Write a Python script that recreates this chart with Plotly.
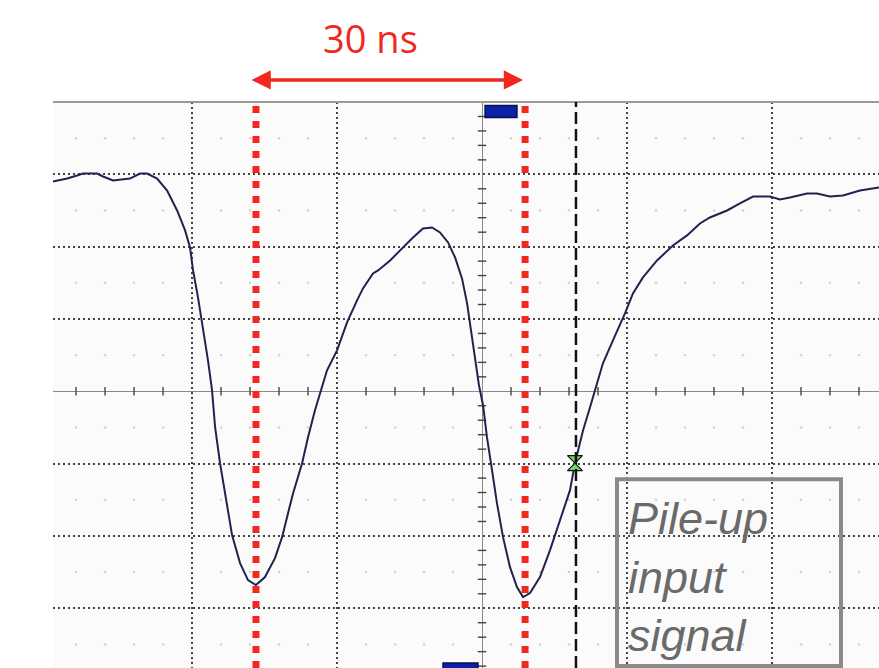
import plotly.graph_objects as go

# Waveform (time and amplitude in screen divisions; centre of screen = 0,0)
T_DIV = [-2.959, -2.862, -2.793, -2.752, -2.655, -2.614, -2.545, -2.497, -2.428, -2.359,
         -2.310, -2.241, -2.172, -2.103, -2.048, -2.014, -1.993, -1.959, -1.924, -1.890,
         -1.862, -1.841, -1.807, -1.772, -1.724, -1.669, -1.614, -1.559, -1.497, -1.428,
         -1.379, -1.338, -1.303, -1.241, -1.200, -1.152, -1.117, -1.069, -1.000, -0.931,
         -0.862, -0.821, -0.752, -0.717, -0.634, -0.545, -0.476, -0.407, -0.345, -0.290,
         -0.234, -0.186, -0.138, -0.103, -0.076, -0.048, -0.021, 0.007, 0.034, 0.069,
         0.103, 0.145, 0.193, 0.241, 0.283, 0.331, 0.400, 0.469, 0.538, 0.607,
         0.641, 0.697, 0.745, 0.779, 0.834, 0.903, 0.986, 1.041, 1.110, 1.207,
         1.317, 1.414, 1.503, 1.572, 1.690, 1.779, 1.869, 1.986, 2.055, 2.124,
         2.241, 2.310, 2.400, 2.490, 2.607, 2.738]
V_DIV = [2.901, 2.942, 2.983, 3.011, 3.011, 2.970, 2.914, 2.928, 2.942, 3.011,
         3.011, 2.942, 2.776, 2.500, 2.224, 1.989, 1.671, 1.298, 0.884, 0.428,
         0.014, -0.497, -0.994, -1.409, -1.989, -2.376, -2.610, -2.680, -2.569, -2.307,
         -2.017, -1.685, -1.409, -0.994, -0.635, -0.262, -0.014, 0.290, 0.566, 0.953,
         1.257, 1.423, 1.630, 1.671, 1.809, 1.989, 2.127, 2.251, 2.265, 2.196,
         2.058, 1.851, 1.561, 1.215, 0.843, 0.428, 0.083, -0.193, -0.635, -1.091,
         -1.547, -2.017, -2.431, -2.707, -2.845, -2.790, -2.569, -2.196, -1.782, -1.367,
         -0.994, -0.539, -0.221, 0.014, 0.387, 0.704, 1.077, 1.354, 1.575, 1.809,
         2.017, 2.155, 2.320, 2.403, 2.500, 2.597, 2.693, 2.693, 2.652, 2.680,
         2.735, 2.735, 2.693, 2.707, 2.776, 2.818]

X_RANGE = [-2.959, 2.738]
Y_RANGE = [-3.826, 4.0]
X_GRID = [-2, -1, 0, 1, 2]
Y_GRID = [-3, -2, -1, 0, 1, 2, 3]

PEAK_MARKERS = [-1.559, 0.297]      # red dotted cursors at the two minima
TRIGGER_X = 0.648                   # black dashed cursor
TRIGGER_POINT = (0.641, -0.994)     # green trigger marker
LABEL_30NS = "30 ns"
LABEL_BOX = "Pile-up<br>input<br>signal"

RED = "#f0281e"

fig = go.Figure()

# faint minor dots at half-division rows
mx, my = [], []
for r in [-3.5, -2.5, -1.5, -0.5, 0.5, 1.5, 2.5, 3.5]:
    for k in range(-15, 15):
        if k % 5 != 0:
            mx.append(k * 0.2)
            my.append(r)
fig.add_trace(go.Scatter(x=mx, y=my, mode="markers", hoverinfo="skip",
                         marker=dict(size=2.5, color="#d2d2d2"), showlegend=False))

# minor ticks on centre axes
tx = [k * 0.2 for k in range(-15, 15) if k % 5 != 0]
fig.add_trace(go.Scatter(x=tx, y=[0] * len(tx), mode="markers", hoverinfo="skip",
                         marker=dict(symbol="line-ns", size=6, line=dict(width=1.4, color="#444")),
                         showlegend=False))
ty = [k * 0.2 for k in range(-20, 21) if k % 5 != 0]
fig.add_trace(go.Scatter(x=[0] * len(ty), y=ty, mode="markers", hoverinfo="skip",
                         marker=dict(symbol="line-ew", size=6, line=dict(width=1.4, color="#444")),
                         showlegend=False))

# waveform
fig.add_trace(go.Scatter(x=T_DIV, y=V_DIV, mode="lines", hoverinfo="skip",
                         line=dict(color="#22224e", width=2.0), showlegend=False))

shapes = []
# top border of the screen
shapes.append(dict(type="line", xref="paper", yref="paper", x0=0, x1=1, y0=1, y1=1,
                   line=dict(color="#9a9a9a", width=2), layer="above"))
# red dotted cursors
for xm in PEAK_MARKERS:
    shapes.append(dict(type="line", xref="x", yref="paper", x0=xm, x1=xm, y0=0, y1=1,
                       line=dict(color=RED, width=7, dash="7px,8px"), layer="above"))
# black dashed trigger cursor
shapes.append(dict(type="line", xref="x", yref="paper", x0=TRIGGER_X, x1=TRIGGER_X, y0=0, y1=1,
                   line=dict(color="#111", width=2.5, dash="12px,5px"), layer="above"))
# blue position markers
shapes.append(dict(type="rect", xref="x", yref="y", x0=0.021, x1=0.241, y0=3.785, y1=3.950,
                   fillcolor="#0b22a8", line=dict(color="#0a0f50", width=1.5), layer="above"))
shapes.append(dict(type="rect", xref="x", yref="y", x0=-0.269, x1=-0.028, y0=-3.95, y1=-3.757,
                   fillcolor="#0b22a8", line=dict(color="#0a0f50", width=1.5), layer="above"))
# label box
shapes.append(dict(type="rect", xref="x", yref="y", x0=0.931, x1=2.476, y0=-3.798, y1=-1.215,
                   line=dict(color="#8a8a8a", width=4), fillcolor="rgba(0,0,0,0)", layer="above"))

fig.add_trace(go.Scatter(x=[TRIGGER_POINT[0]], y=[TRIGGER_POINT[1]], mode="markers",
                         hoverinfo="skip", showlegend=False,
                         marker=dict(symbol="hourglass", size=15, color="#6ddc5a",
                                     line=dict(color="#111", width=1.2))))

annotations = [
    # 30 ns span arrow between the two cursors (above the screen)
    dict(x=PEAK_MARKERS[1] - 0.014, y=1.0389, xref="x", yref="paper",
         ax=PEAK_MARKERS[0] - 0.041, ay=0, axref="x", ayref="pixel",
         text="", showarrow=True, arrowhead=2, arrowside="end+start",
         arrowsize=1.1, arrowwidth=3.5, arrowcolor=RED, standoff=0, startstandoff=0),
    dict(x=-0.766, y=1.1131, xref="x", yref="paper", text=LABEL_30NS, showarrow=False,
         font=dict(family="Open Sans", size=38, color=RED), xanchor="center", yanchor="middle"),
    dict(x=0.993, y=-2.569, xref="x", yref="y", text="<i>" + LABEL_BOX + "</i>",
         showarrow=False, align="left", xanchor="left", yanchor="middle",
         font=dict(family="Liberation Sans", size=45, color="#6a6a6a")),
]

fig.update_layout(
    width=879, height=668,
    margin=dict(l=53, r=0, t=102, b=0, pad=0),
    paper_bgcolor="white", plot_bgcolor="#fbfbfb",
    shapes=shapes, annotations=annotations,
    xaxis=dict(range=X_RANGE, tickvals=X_GRID, showticklabels=False, ticks="",
               showgrid=True, gridcolor="#444444", gridwidth=1.5, griddash="2px,3px",
               zeroline=True, zerolinecolor="#8a8a8a", zerolinewidth=1.3,
               showline=False, fixedrange=True),
    yaxis=dict(range=Y_RANGE, tickvals=Y_GRID, showticklabels=False, ticks="",
               showgrid=True, gridcolor="#444444", gridwidth=1.5, griddash="2px,3px",
               zeroline=True, zerolinecolor="#8a8a8a", zerolinewidth=1.3,
               showline=False, fixedrange=True),
)

fig.write_html("out.html")
